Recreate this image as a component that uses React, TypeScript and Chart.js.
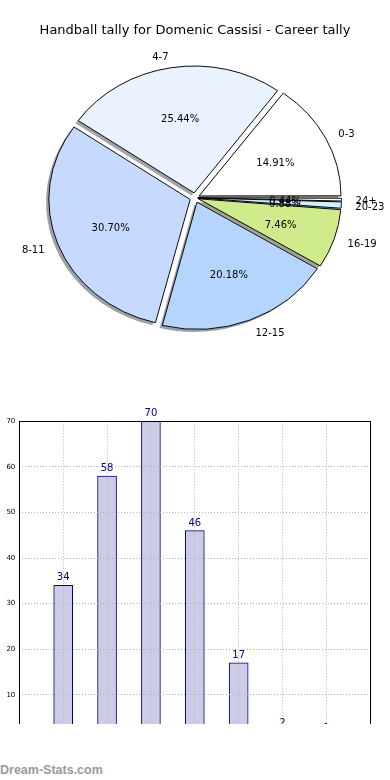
import React, { useEffect, useRef } from 'react';
import { Chart, registerables } from 'chart.js';

Chart.register(...registerables);

// ---------- data ----------
const TITLE = 'Handball tally for Domenic Cassisi - Career tally';
const categories = ['0-3', '4-7', '8-11', '12-15', '16-19', '20-23', '24+'];
const tallies = [34, 58, 70, 46, 17, 2, 1];
const sliceColors = ['#ffffff', '#eaf1ff', '#c6d9ff', '#b5d5ff', '#d0eb8c', '#ccf2ff', '#ffffff'];
const yTicks = [0, 10, 20, 30, 40, 50, 60, 70];
const WATERMARK = 'Dream-Stats.com';

// ---------- style ----------
const FONT = "'DejaVu Sans', sans-serif";
const PIE_R = 141;
const PIE_KY = 0.9;
const EXPLODE = 5.5;
const SHADOW_DX = -2.8;
const SHADOW_DY = 2.6;
const TEXT_DY = 2;

const total = tallies.reduce((a, b) => a + b, 0);
// pie drawn clockwise in Chart.js, so reverse to reproduce counter-clockwise order
const pieLabels = [...categories].reverse();
const pieValues = [...tallies].reverse();
const pieColors = [...sliceColors].reverse();

function shadowColor(hex: string) {
  const n = parseInt(hex.slice(1), 16);
  const r = Math.round(((n >> 16) & 255) * 0.3);
  const g = Math.round(((n >> 8) & 255) * 0.3);
  const b = Math.round((n & 255) * 0.3);
  return `rgba(${r},${g},${b},0.5)`;
}

const pieDecor = {
  id: 'pieDecor',
  beforeDatasetsDraw(chart: any) {
    const ctx = chart.ctx;
    const a = chart.chartArea;
    const cx = (a.left + a.right) / 2;
    const cy = (a.top + a.bottom) / 2;
    ctx.save();
    ctx.translate(cx, cy);
    ctx.scale(1, PIE_KY);
    ctx.translate(-cx, -cy);
    const meta = chart.getDatasetMeta(0);
    meta.data.forEach((el: any, i: number) => {
      const p = el.getProps(['x', 'y', 'startAngle', 'endAngle', 'outerRadius'], true);
      const mid = (p.startAngle + p.endAngle) / 2;
      const sx = p.x + Math.cos(mid) * EXPLODE + SHADOW_DX;
      const sy = p.y + Math.sin(mid) * EXPLODE + SHADOW_DY / PIE_KY;
      ctx.beginPath();
      ctx.moveTo(sx, sy);
      ctx.arc(sx, sy, p.outerRadius, p.startAngle, p.endAngle);
      ctx.closePath();
      ctx.fillStyle = shadowColor(pieColors[i]);
      ctx.fill();
    });
  },
  afterDatasetsDraw(chart: any) {
    const ctx = chart.ctx;
    ctx.restore();
    const meta = chart.getDatasetMeta(0);
    ctx.save();
    ctx.fillStyle = '#000';
    ctx.font = `10px ${FONT}`;
    ctx.textBaseline = 'middle';
    meta.data.forEach((el: any, i: number) => {
      const p = el.getProps(['x', 'y', 'startAngle', 'endAngle', 'outerRadius'], true);
      const mid = (p.startAngle + p.endAngle) / 2;
      const c = Math.cos(mid);
      const s = Math.sin(mid);
      const ox = p.x + c * EXPLODE;
      const oy = p.y + s * EXPLODE * PIE_KY + TEXT_DY;
      const R = p.outerRadius;
      ctx.textAlign = c > 0 ? 'left' : 'right';
      ctx.fillText(pieLabels[i], ox + c * 1.1 * R, oy + s * 1.1 * R * PIE_KY);
      ctx.textAlign = 'center';
      const pct = ((pieValues[i] / total) * 100).toFixed(2) + '%';
      ctx.fillText(pct, ox + c * 0.6 * R, oy + s * 0.6 * R * PIE_KY);
    });
    ctx.restore();
  },
};

const barDecor = {
  id: 'barDecor',
  afterDraw(chart: any) {
    const ctx = chart.ctx;
    const a = chart.chartArea;
    ctx.save();
    ctx.strokeStyle = '#000';
    ctx.lineWidth = 1;
    ctx.strokeRect(Math.round(a.left) + 0.5, Math.round(a.top) + 0.5, Math.round(a.right - a.left), Math.round(a.bottom - a.top));
    const meta = chart.getDatasetMeta(0);
    ctx.fillStyle = '#000080';
    ctx.font = `10px ${FONT}`;
    ctx.textAlign = 'center';
    ctx.textBaseline = 'alphabetic';
    meta.data.forEach((el: any, i: number) => {
      ctx.fillText(String(tallies[i]), el.x, el.y - 5);
    });
    ctx.restore();
  },
};

function PieChart() {
  const ref = useRef<HTMLCanvasElement>(null);
  useEffect(() => {
    if (!ref.current) return;
    const chart = new Chart(ref.current, {
      type: 'pie',
      data: {
        labels: pieLabels,
        datasets: [
          {
            data: pieValues,
            backgroundColor: pieColors,
            borderColor: '#000',
            borderWidth: 1,
            offset: (c: any) => {
              const v = pieValues[c.dataIndex] ?? 0;
              const circ = (2 * Math.PI * v) / total;
              const fix = 1 - Math.sin(Math.min(Math.PI, circ));
              return (EXPLODE * 4) / (1 + fix);
            },
          } as any,
        ],
      },
      options: {
        animation: false,
        responsive: false,
        radius: PIE_R,
        rotation: 90,
        layout: { padding: { top: 0, bottom: 43, left: 0, right: 0 } },
        plugins: {
          legend: { display: false },
          tooltip: { enabled: false },
          title: {
            display: true,
            text: TITLE,
            color: '#000',
            font: { family: FONT, size: 13, weight: 'normal' },
            padding: { top: 23, bottom: 0 },
          },
        },
      } as any,
      plugins: [pieDecor],
    });
    return () => chart.destroy();
  }, []);
  return <canvas ref={ref} width={390} height={400} style={{ display: 'block' }} />;
}

function BarChart() {
  const ref = useRef<HTMLCanvasElement>(null);
  useEffect(() => {
    if (!ref.current) return;
    const gridCommon = { color: '#b4b4b4', lineWidth: 1, drawTicks: false, z: 1, offset: false };
    const chart = new Chart(ref.current, {
      type: 'bar',
      data: {
        datasets: [
          {
            data: categories.map((_, i) => ({ x: i + 1, y: tallies[i] })),
            backgroundColor: '#ccccE6',
            borderColor: '#000088',
            borderWidth: 1,
            barThickness: 19,
          },
        ],
      },
      options: {
        animation: false,
        responsive: false,
        layout: { padding: { left: 0, right: 19.7, top: 21.3, bottom: 19.7 } },
        plugins: { legend: { display: false }, tooltip: { enabled: false } },
        scales: {
          x: {
            type: 'linear',
            offset: false,
            min: 0,
            max: categories.length + 1,
            ticks: { stepSize: 1, display: false },
            grid: gridCommon,
            border: { display: false, dash: [1, 2] },
            afterFit: (s: any) => {
              s.height = 0;
            },
          },
          y: {
            min: 0,
            max: 70,
            ticks: { font: { family: FONT, size: 7 }, color: '#000', padding: 4 },
            afterBuildTicks: (s: any) => {
              s.ticks = yTicks.map((v) => ({ value: v }));
            },
            grid: gridCommon,
            border: { display: false, dash: [1, 2] },
            afterFit: (s: any) => {
              s.width = 19.3;
            },
          },
        },
      } as any,
      plugins: [barDecor],
    });
    return () => chart.destroy();
  }, []);
  return <canvas ref={ref} width={390} height={360} style={{ display: 'block' }} />;
}

export default function App() {
  return (
    <div style={{ position: 'absolute', left: 0, top: 0, width: 390, height: 780, background: '#fff', overflow: 'hidden' }}>
      <div style={{ position: 'absolute', left: 0, top: 0, width: 390, height: 400 }}>
        <PieChart />
      </div>
      <div style={{ position: 'absolute', left: 0, top: 400, width: 390, height: 324, overflow: 'hidden' }}>
        <BarChart />
      </div>
      <div
        style={{
          position: 'absolute',
          left: 0,
          top: 763,
          fontFamily: "'Liberation Sans', Arial, sans-serif",
          fontWeight: 'bold',
          fontSize: 12.5,
          lineHeight: '14px',
          color: '#9a9a9a',
          whiteSpace: 'nowrap',
        }}
      >
        {WATERMARK}
      </div>
    </div>
  );
}
